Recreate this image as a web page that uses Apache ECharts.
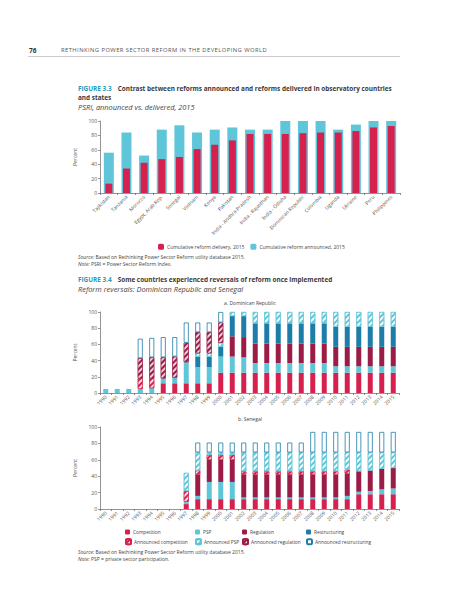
<!DOCTYPE html>
<html>
<head>
<meta charset="utf-8">
<script src="https://cdn.jsdelivr.net/npm/echarts@6/dist/echarts.min.js"></script>
<style>
body{margin:0;background:#fff;font-family:"Open Sans",sans-serif;}
#page{position:relative;width:457px;height:600px;overflow:hidden;}
#chart{position:absolute;left:0;top:0;width:457px;height:600px;}
.t{position:absolute;white-space:nowrap;line-height:1;color:#444;}
.fig{color:#1f9bb8;font-weight:bold;}
.b{font-weight:bold;color:#3a3a3a;}
.i{font-style:italic;}
</style>
</head>
<body>
<div id="page">
<div id="chart"></div>
<div class="t" style="left:29px;top:47.5px;font-size:6.5px;font-weight:bold;color:#333">76</div>
<div class="t" style="left:61px;top:47.8px;font-size:5.8px;letter-spacing:0.45px;color:#555">RETHINKING POWER SECTOR REFORM IN THE DEVELOPING WORLD</div>
<div style="position:absolute;left:28px;top:56px;width:372px;height:1px;background:#ccc"></div>

<div class="t" style="left:78px;top:85.8px;font-size:6.4px"><span class="fig">FIGURE 3.3</span><span class="b" style="margin-left:6px">Contrast between reforms announced and reforms delivered in observatory countries</span></div>
<div class="t b" style="left:78px;top:94.5px;font-size:6.4px">and states</div>
<div class="t i" style="left:78px;top:104.3px;font-size:7.4px;color:#444">PSRI, announced vs. delivered, 2015</div>

<div class="t" style="left:78px;top:255.3px;font-size:5px"><span class="i">Source:</span> Based on Rethinking Power Sector Reform utility database 2015.</div>
<div class="t" style="left:78px;top:261.8px;font-size:5px"><span class="i">Note:</span> PSRI = Power Sector Reform Index.</div>

<div class="t" style="left:78px;top:276.8px;font-size:6.4px"><span class="fig">FIGURE 3.4</span><span class="b" style="margin-left:6px">Some countries experienced reversals of reform once implemented</span></div>
<div class="t i" style="left:78px;top:286.3px;font-size:7.4px;color:#444">Reform reversals: Dominican Republic and Senegal</div>
<div class="t" style="left:250px;top:300.5px;font-size:5px;transform:translateX(-50%)">a. Dominican Republic</div>
<div class="t" style="left:250px;top:416.5px;font-size:5px;transform:translateX(-50%)">b. Senegal</div>

<div class="t" style="left:78px;top:549.8px;font-size:5px"><span class="i">Source:</span> Based on Rethinking Power Sector Reform utility database 2015.</div>
<div class="t" style="left:78px;top:556.8px;font-size:5px"><span class="i">Note:</span> PSP = private sector participation.</div>
</div>
<script>
// figure 3.3
var countries = ['Tajikistan', 'Tanzania', 'Morocco', 'Egypt, Arab Rep.', 'Senegal', 'Vietnam', 'Kenya', 'Pakistan',
	'India - Andhra Pradesh', 'India - Rajasthan', 'India - Odisha', 'Dominican Republic', 'Colombia', 'Uganda',
	'Ukraine', 'Peru', 'Philippines'];
var delivered = [13, 34, 42, 47, 50, 61, 67, 73, 82, 82, 82, 83, 84, 84, 86, 91, 93];
var announced = [56, 84, 52, 88, 94, 84, 88, 91, 88, 88, 100, 100, 100, 88, 95, 100, 100];

// figure 3.4, years 1990-2015
var years = [];
for(var y = 1990; y <= 2015; y++) {
	years.push(String(y));
}
// a. Dominican Republic
var drComp = [0, 0, 0, 0, 0, 12, 12, 12, 12, 12, 25, 25, 25, 25, 25, 25, 25, 25, 25, 25, 25, 25, 25, 25, 25, 25];
var drPSP = [5, 5, 5, 5, 6, 6, 7, 24, 20, 20, 20, 20, 19, 12, 12, 12, 12, 12, 12, 12, 8, 8, 8, 8, 8, 8];
var drReg = [0, 0, 0, 0, 0, 0, 0, 0, 0, 0, 0, 25, 25, 24, 24, 24, 24, 24, 24, 24, 24, 24, 24, 24, 24, 24];
var drRestr = [0, 0, 0, 0, 0, 0, 0, 0, 13, 13, 12, 25, 26, 25, 25, 25, 25, 25, 25, 25, 25, 25, 25, 25, 25, 25];
var drAnnComp = [0, 0, 0, 13, 12, 0, 0, 0, 0, 0, 0, 0, 0, 0, 0, 0, 0, 0, 0, 0, 0, 0, 0, 0, 0, 0];
var drAnnPSP = [0, 0, 0, 0, 0, 0, 0, 2, 4, 4, 5, 5, 5, 14, 14, 14, 14, 14, 14, 14, 18, 18, 18, 18, 18, 18];
var drAnnReg = [0, 0, 0, 25, 26, 26, 26, 24, 26, 26, 25, 0, 0, 0, 0, 0, 0, 0, 0, 0, 0, 0, 0, 0, 0, 0];
var drAnnRestr = [0, 0, 0, 24, 24, 25, 24, 25, 12, 12, 13, 0, 0, 0, 0, 0, 0, 0, 0, 0, 0, 0, 0, 0, 0, 0];
// b. Senegal
var snComp = [0, 0, 0, 0, 0, 0, 0, 6, 12, 12, 12, 12, 12, 12, 12, 12, 12, 12, 12, 12, 12, 12, 18, 18, 18, 18];
var snPSP = [0, 0, 0, 0, 0, 0, 0, 3, 4, 21, 21, 21, 2, 2, 2, 2, 2, 2, 2, 2, 2, 4, 3, 4, 6, 7];
var snReg = [0, 0, 0, 0, 0, 0, 0, 0, 26, 27, 27, 27, 28, 28, 28, 28, 28, 28, 28, 28, 28, 27, 25, 25, 25, 25];
var snRestr = [0, 0, 0, 0, 0, 0, 0, 0, 0, 0, 0, 0, 0, 0, 0, 0, 0, 0, 0, 0, 0, 0, 0, 0, 0, 0];
var snAnnComp = [0, 0, 0, 0, 0, 0, 0, 13, 5, 6, 6, 6, 4, 4, 4, 4, 4, 4, 4, 4, 4, 5, 0, 0, 0, 0];
var snAnnPSP = [0, 0, 0, 0, 0, 0, 0, 22, 22, 3, 3, 3, 23, 23, 23, 23, 23, 23, 23, 23, 23, 21, 23, 22, 20, 19];
var snAnnReg = [0, 0, 0, 0, 0, 0, 0, 0, 0, 0, 0, 0, 0, 0, 0, 0, 0, 0, 0, 0, 0, 0, 0, 0, 0, 0];
var snAnnRestr = [0, 0, 0, 0, 0, 0, 0, 0, 12, 12, 12, 12, 12, 12, 12, 12, 12, 12, 25, 25, 25, 25, 25, 25, 25, 25];

var FONT = '"Open Sans", sans-serif';
var cRed = '#d6204e', cLight = '#5ec6d8', cMaroon = '#9b1c46', cDark = '#1c7ea8';

function hatch(color) {
	return {
		symbol: 'rect',
		symbolSize: 1,
		color: color,
		dashArrayX: [1, 0],
		dashArrayY: [1.2, 1.2],
		rotation: -Math.PI / 4
	};
}
// zero -> no bar, so no outline is drawn
function nz(arr) {
	return arr.map(function(v) {
		return v === 0 ? '-' : v;
	});
}

var stackDefs = [
	{ name: 'Competition', style: { color: cRed } },
	{ name: 'PSP', style: { color: cLight } },
	{ name: 'Regulation', style: { color: cMaroon } },
	{ name: 'Restructuring', style: { color: cDark } },
	{ name: 'Announced competition', style: { color: cRed, borderColor: cRed, borderWidth: 0.6, decal: hatch('rgba(255,255,255,0.85)') } },
	{ name: 'Announced PSP', style: { color: '#fff', borderColor: cLight, borderWidth: 0.6, decal: hatch(cLight) } },
	{ name: 'Announced regulation', style: { color: cMaroon, borderColor: cMaroon, borderWidth: 0.6, decal: hatch('rgba(255,255,255,0.8)') } },
	{ name: 'Announced restructuring', style: { color: '#fff', borderColor: cDark, borderWidth: 0.8 } }
];
var drData = [drComp, drPSP, drReg, drRestr, drAnnComp, drAnnPSP, drAnnReg, drAnnRestr];
var snData = [snComp, snPSP, snReg, snRestr, snAnnComp, snAnnPSP, snAnnReg, snAnnRestr];

function yAx(grid) {
	return {
		gridIndex: grid,
		type: 'value',
		min: 0,
		max: 100,
		interval: 20,
		name: 'Percent',
		nameLocation: 'middle',
		nameRotate: 90,
		nameGap: 13,
		nameTextStyle: { fontSize: 5, color: '#555', fontFamily: FONT },
		axisLine: { show: true, lineStyle: { color: '#666', width: 0.7 } },
		axisTick: { show: true, length: 2, lineStyle: { color: '#666', width: 0.7 } },
		splitLine: { show: false },
		axisLabel: { fontSize: 5, color: '#555', margin: 3, fontFamily: FONT }
	};
}
function xAx(grid, data, show) {
	return {
		gridIndex: grid,
		type: 'category',
		data: data,
		show: show,
		axisLine: { lineStyle: { color: '#666', width: 0.7 } },
		axisTick: { show: true, length: 2, lineStyle: { color: '#666', width: 0.7 } },
		axisLabel: { fontSize: 5, color: '#555', rotate: 45, margin: 3, interval: 0, fontFamily: FONT }
	};
}

var series = [{
	name: 'Cumulative reform announced, 2015',
	type: 'bar',
	xAxisIndex: 0,
	yAxisIndex: 0,
	barWidth: 10,
	data: announced,
	itemStyle: { color: cLight }
}, {
	name: 'Cumulative reform delivery, 2015',
	type: 'bar',
	xAxisIndex: 1,
	yAxisIndex: 0,
	barWidth: 7,
	data: delivered,
	itemStyle: { color: cRed }
}];
stackDefs.forEach(function(d, i) {
	series.push({
		name: d.name, type: 'bar', stack: 'dr', xAxisIndex: 2, yAxisIndex: 1,
		barWidth: 5, data: nz(drData[i]), itemStyle: d.style
	});
	series.push({
		name: d.name, type: 'bar', stack: 'sn', xAxisIndex: 3, yAxisIndex: 2,
		barWidth: 5, data: nz(snData[i]), itemStyle: d.style
	});
});

var legends = [{
	left: 158,
	top: 243.7,
	padding: 0,
	itemWidth: 6,
	itemHeight: 6,
	itemGap: 6,
	data: ['Cumulative reform delivery, 2015', 'Cumulative reform announced, 2015'],
	textStyle: { fontSize: 5, color: '#444', fontFamily: FONT, padding: [0, 0, 0, -2] }
}];
var cols = [125, 195, 242, 306];
stackDefs.forEach(function(d, i) {
	legends.push({
		left: cols[i % 4],
		top: i < 4 ? 529.5 : 538.2,
		padding: 0,
		itemWidth: 5,
		itemHeight: 5,
		data: [d.name],
		textStyle: { fontSize: 4.8, color: '#444', fontFamily: FONT, padding: [0, 0, 0, -2] }
	});
});

var chart = echarts.init(document.getElementById('chart'), null, { renderer: 'svg' });
chart.setOption({
	animation: false,
	textStyle: { fontFamily: FONT },
	grid: [
		{ left: 100, top: 121, width: 300, height: 72 },
		{ left: 100, top: 312, width: 299, height: 81 },
		{ left: 100, top: 427, width: 299, height: 82 }
	],
	xAxis: [xAx(0, countries, true), xAx(0, countries, false), xAx(1, years, true), xAx(2, years, true)],
	yAxis: [yAx(0), yAx(1), yAx(2)],
	legend: legends,
	series: series
});
</script>
</body>
</html>
